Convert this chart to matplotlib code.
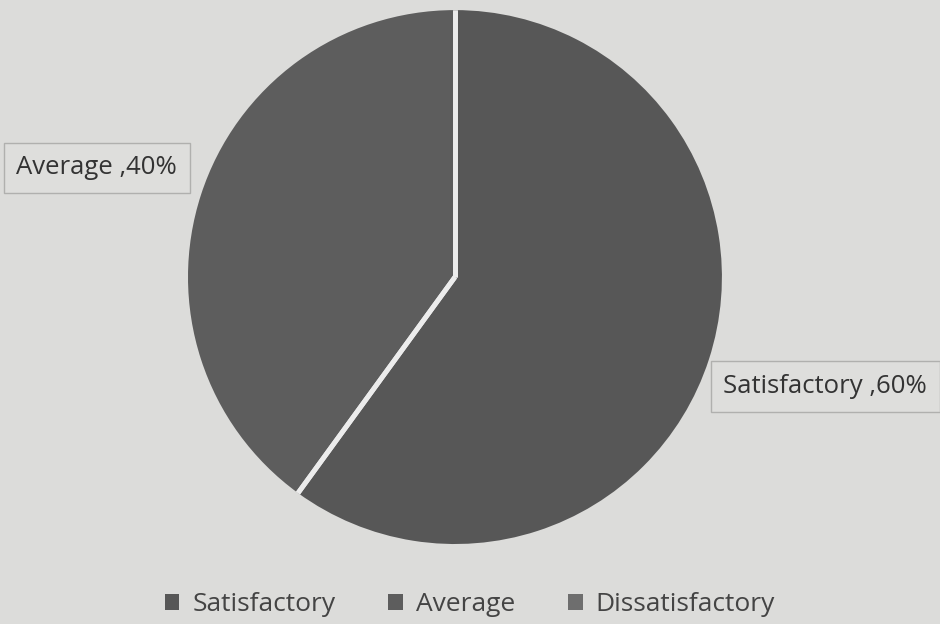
import matplotlib
matplotlib.use("Agg")
import matplotlib.pyplot as plt
from matplotlib.patches import Patch
import numpy as np

categories = ["Satisfactory", "Average", "Dissatisfactory"]
values = [60, 40, 0]
colors = ["#575757", "#5d5d5d", "#6e6e6e"]

plt.rcParams['font.family'] = ['Open Sans', 'DejaVu Sans']

fig = plt.figure(figsize=(9.4, 6.24), dpi=100)
fig.patch.set_facecolor("#dcdcda")
ax = fig.add_axes([0.2, 0.128, 0.568, 0.856])
ax.set_facecolor("#dcdcda")

wedges, _ = ax.pie(values, colors=colors, startangle=90, counterclock=False,
                   wedgeprops=dict(edgecolor="none", linewidth=0))
# white separators along wedge boundaries
for w in wedges:
    if w.theta2 - w.theta1 > 0:
        for th in (w.theta1, w.theta2):
            t = np.deg2rad(th)
            ax.plot([0, np.cos(t)], [0, np.sin(t)], color="#ececec", lw=3.5,
                    solid_capstyle="butt")
ax.set_xlim(-1, 1)
ax.set_ylim(-1, 1)
ax.set_aspect("equal")
ax.axis("off")

box = dict(boxstyle="square,pad=0.5", facecolor="#dededc", edgecolor="#b0b0ae", linewidth=1)
fig.text(0.103, 0.731, f"{categories[1]} ,{values[1]}%", fontsize=18.5, color="#333333",
         ha="center", va="center", bbox=box)
fig.text(0.878, 0.381, f"{categories[0]} ,{values[0]}%", fontsize=18.5, color="#333333",
         ha="center", va="center", bbox=box)

handles = [Patch(facecolor=c, edgecolor="none") for c in colors]
fig.legend(handles, categories, loc="center", bbox_to_anchor=(0.5, 0.031), ncol=3,
           frameon=False, fontsize=19, labelcolor="#444444", handlelength=0.55,
           handleheight=0.55, columnspacing=2.0, handletextpad=0.5)

fig.savefig("out.png", dpi=100, facecolor=fig.get_facecolor())
